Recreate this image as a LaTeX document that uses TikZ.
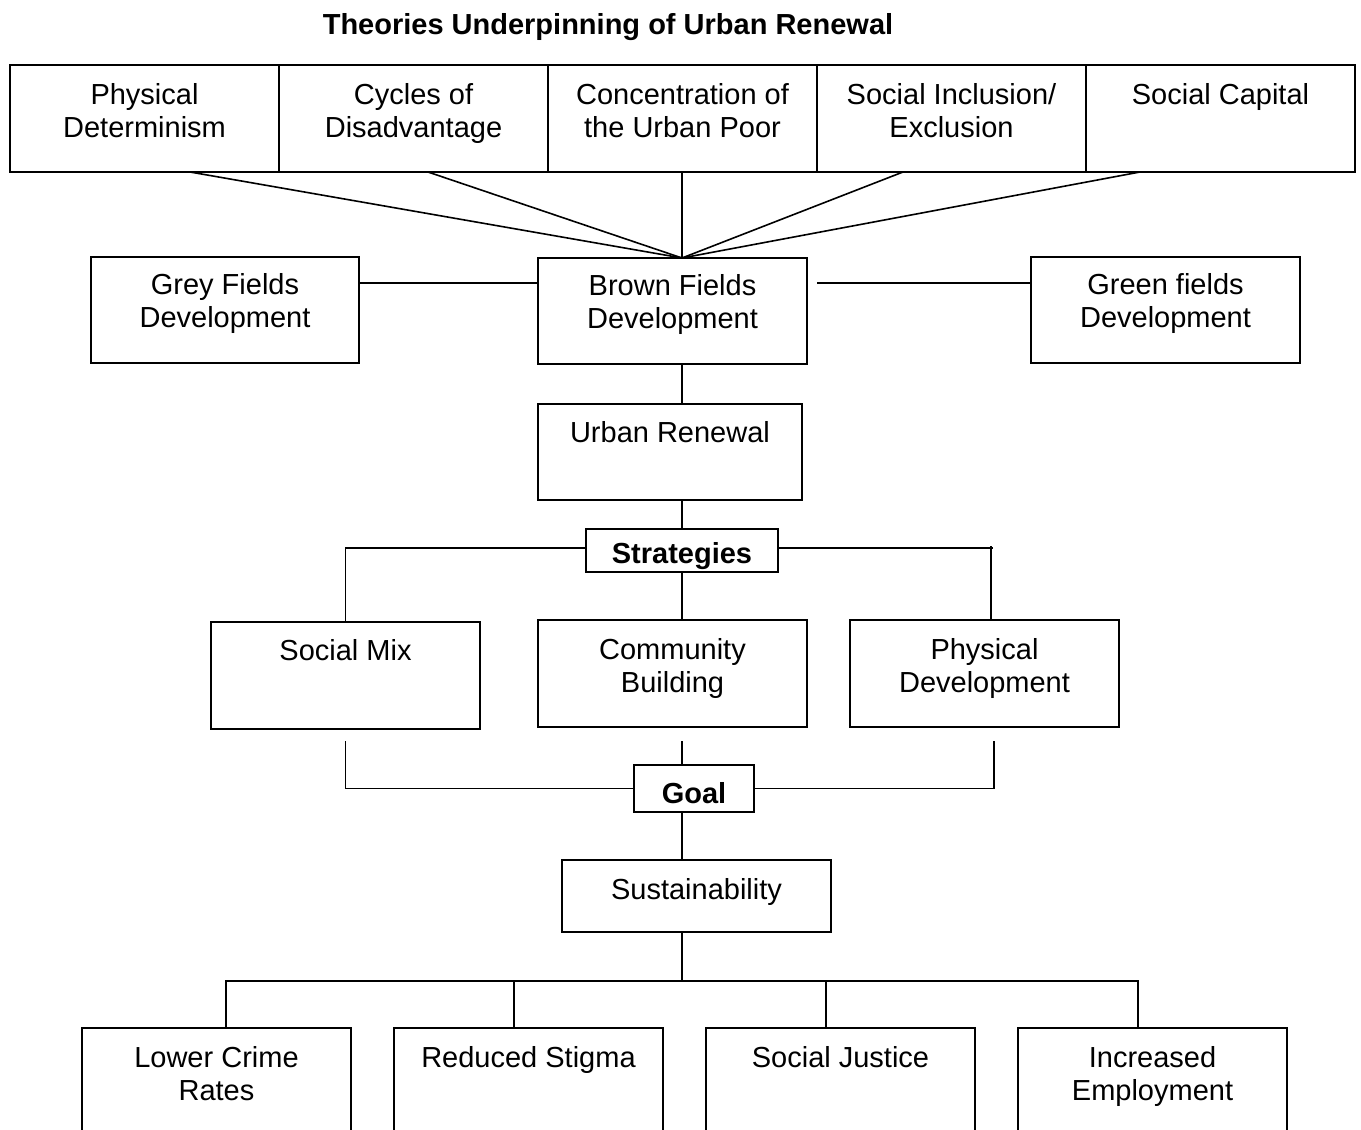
\documentclass[tikz,border=0pt]{standalone}
\usepackage{fontspec}
\setmainfont{Liberation Sans}
\newcommand\mybox[7]{%
  \node[boxst, anchor=north west] (#1) at (#2,#3)
    {\parbox[c][\dimexpr#5pt/2\relax][t]{\dimexpr#4pt/2\relax}{\centering\rule{0pt}{\dimexpr#6pt/2\relax}#7}};}
\tikzset{
  boxst/.style={draw=black, line width=1pt, inner sep=0pt, outer sep=0pt, fill=white,
    font=\fontsize{14.5}{16.5}\selectfont},
  conn/.style={draw=black, line width=0.8pt}
}
\begin{document}
\begin{tikzpicture}[x=0.5pt,y=-0.5pt]
\clip (0,0) rectangle (1361,1130);
\fill[white] (0,0) rectangle (1361,1130);
\node[font=\fontsize{14.5}{16.5}\selectfont\bfseries, anchor=base, inner sep=0pt] (title) at (608,34) {Theories Underpinning of Urban Renewal};
\coordinate (mx) at (682,0);
\coordinate (bus) at (682,981);
% top row
\mybox{t1}{10}{65}{269}{107}{39}{Physical\\Determinism}
\mybox{t2}{279}{65}{269}{107}{39}{Cycles of\\Disadvantage}
\mybox{t3}{548}{65}{269}{107}{39}{Concentration of\\the Urban Poor}
\mybox{t4}{817}{65}{269}{107}{39}{Social Inclusion/\\Exclusion}
\mybox{t5}{1086}{65}{269}{107}{39}{Social Capital}
% second row
\mybox{grey}{91}{257}{268}{106}{37}{Grey Fields\\Development}
\mybox{brown}{538}{258}{269}{106}{37}{Brown Fields\\Development}
\mybox{green}{1031}{257}{269}{106}{37}{Green fields\\Development}
\mybox{urban}{538}{404}{264}{96}{38}{Urban Renewal}
\node[boxst, anchor=north west, font=\fontsize{14.5}{16.5}\selectfont\bfseries] (strat) at (586,529)
  {\parbox[c][21.5pt][t]{96pt}{\centering\rule{0pt}{17.25pt}Strategies}};
\mybox{mix}{211}{622}{269}{107}{38}{Social Mix}
\mybox{comm}{538}{620}{269}{107}{39}{Community\\Building}
\mybox{phys}{850}{620}{269}{107}{39}{Physical\\Development}
\node[boxst, anchor=north west, font=\fontsize{14.5}{16.5}\selectfont\bfseries] (goal) at (634,765)
  {\parbox[c][23.5pt][t]{60pt}{\centering\rule{0pt}{19pt}Goal}};
\mybox{sust}{562}{860}{269}{72}{39}{Sustainability}
\mybox{b1}{82}{1028}{269}{130}{39}{Lower Crime\\Rates}
\mybox{b2}{394}{1028}{269}{130}{39}{Reduced Stigma}
\mybox{b3}{706}{1028}{269}{130}{39}{Social Justice}
\mybox{b4}{1018}{1028}{269}{130}{39}{Increased\\Employment}
% connectors
\draw[conn] ([xshift=22.75pt]t1.south) -- ([xshift=4.75pt]brown.north);
\draw[conn] ([xshift=7.25pt]t2.south) -- ([xshift=4.75pt]brown.north);
\draw[conn] ([xshift=-0.25pt]t3.south) -- ([xshift=4.75pt]brown.north);
\draw[conn] ([xshift=-24.25pt]t4.south) -- ([xshift=4.75pt]brown.north);
\draw[conn] ([xshift=-40.25pt]t5.south) -- ([xshift=4.75pt]brown.north);
\draw[conn] ([yshift=13.5pt]grey.east) -- ([yshift=14pt]brown.west);
\draw[conn] ([xshift=5pt,yshift=14pt]brown.east) -- ([yshift=13.5pt]green.west);
\draw[conn] (brown.south -| mx) -- (urban.north -| mx);
\draw[conn] (urban.south -| mx) -- (strat.north);
\draw[conn] ([yshift=1.25pt]strat.west) -| (mix.north);
\draw[conn] ([yshift=1.25pt]strat.east) -- ++(107.5pt,0);
\draw[conn] ([xshift=3.25pt]phys.north) -- ([xshift=3.25pt,yshift=37.25pt]phys.north);
\draw[conn] (strat.south) -- (strat.south |- comm.north);
\draw[conn] ([yshift=-6pt]mix.south) |- (goal.west);
\draw[conn] ([xshift=4.75pt,yshift=-7pt]phys.south) |- (goal.east);
\draw[conn] ([yshift=-7pt]comm.south -| mx) -- (goal.north -| mx);
\draw[conn] (goal.south -| mx) -- (sust.north -| mx);
\draw[conn] (sust.south -| mx) -- (bus);
\draw[conn] ([xshift=4.75pt]b1.north) |- (bus) -| ([xshift=-7.25pt]b4.north);
\draw[conn] ([xshift=-7.25pt]b2.north) -- ([xshift=-7.25pt]b2.north |- bus);
\draw[conn] ([xshift=-7.25pt]b3.north) -- ([xshift=-7.25pt]b3.north |- bus);
\end{tikzpicture}
\end{document}
